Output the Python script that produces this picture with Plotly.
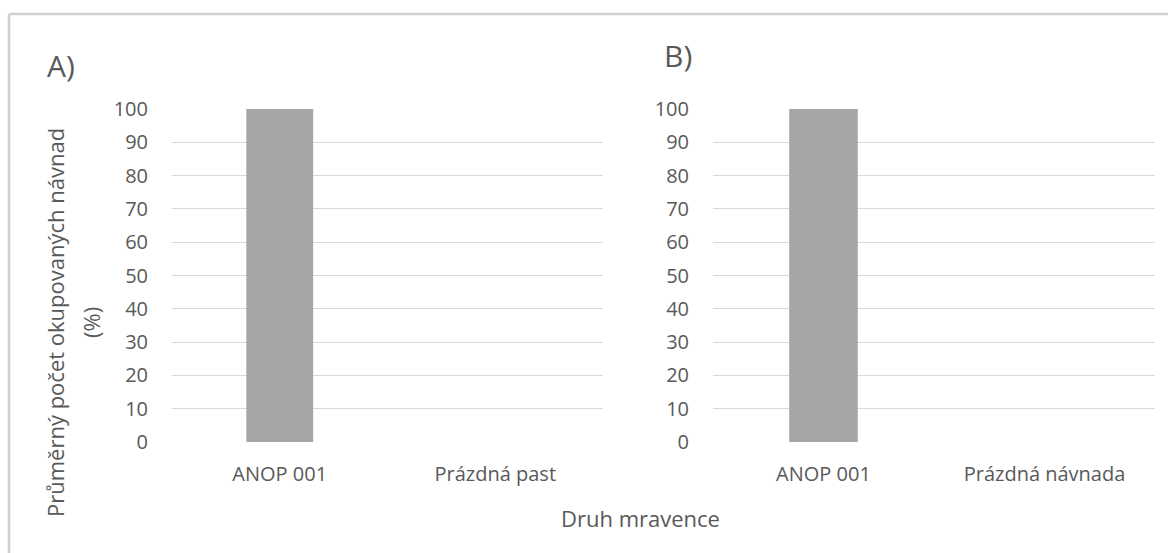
import plotly.graph_objects as go

# Mean share of occupied baits per ant species, two experiments
cats_a = ["ANOP 001", "Prázdná past"]
vals_a = [100, 0]
cats_b = ["ANOP 001", "Prázdná návnada"]
vals_b = [100, 0]
y_ticks = list(range(0, 101, 10))

W, H = 1168, 553
FONT = "Open Sans"
TXT = "#595959"
GRID = "#d9d9d9"
BAR = "#a5a5a5"


def px_x(v):
    return v / W


def px_y(v):
    return 1 - v / H


fig = go.Figure()
fig.add_trace(go.Bar(x=cats_a, y=vals_a, marker=dict(color=BAR, line=dict(width=0)),
                     xaxis="x", yaxis="y", showlegend=False))
fig.add_trace(go.Bar(x=cats_b, y=vals_b, marker=dict(color=BAR, line=dict(width=0)),
                     xaxis="x2", yaxis="y2", showlegend=False))

y_common = dict(range=[0, 100], tickvals=y_ticks, showgrid=True, gridcolor=GRID,
                gridwidth=1.3, zeroline=False, showline=False, ticks="",
                tickfont=dict(family=FONT, size=20, color=TXT),
                ticklabelstandoff=23, fixedrange=True, automargin=False,
                domain=[px_y(442), px_y(109)])
x_common = dict(showgrid=False, zeroline=False, showline=False, ticks="",
                tickfont=dict(family=FONT, size=20, color=TXT),
                ticklabelstandoff=18, fixedrange=True, automargin=False)

fig.update_layout(
    width=W, height=H,
    margin=dict(l=0, r=0, t=0, b=0, autoexpand=False),
    paper_bgcolor="white", plot_bgcolor="white",
    bargap=0.69,
    font=dict(family=FONT, color=TXT),
    xaxis=dict(domain=[px_x(172), px_x(603)], anchor="y", **x_common),
    yaxis=dict(anchor="x", **y_common),
    xaxis2=dict(domain=[px_x(713), px_x(1155)], anchor="y2", **x_common),
    yaxis2=dict(anchor="x2", **y_common),
)

annots = [
    dict(text="A)", x=px_x(61), y=px_y(65), font=dict(size=30, color=TXT, family=FONT)),
    dict(text="B)", x=px_x(678), y=px_y(55), font=dict(size=30, color=TXT, family=FONT)),
    dict(text="Druh mravence", x=px_x(640), y=px_y(518), font=dict(size=22, color=TXT, family=FONT)),
    dict(text="Průměrný počet okupovaných návnad", x=px_x(55), y=px_y(323), textangle=-90,
         font=dict(size=22, color=TXT, family=FONT)),
    dict(text="(%)", x=px_x(91), y=px_y(323), textangle=-90,
         font=dict(size=22, color=TXT, family=FONT)),
]
for a in annots:
    fig.add_annotation(xref="paper", yref="paper", showarrow=False,
                       xanchor="center", yanchor="middle", **a)

# chart frame (top and left edges)
fig.add_shape(type="line", xref="paper", yref="paper", x0=px_x(9), x1=1.0,
              y0=px_y(14), y1=px_y(14), line=dict(color="#d0d0d0", width=2.5))
fig.add_shape(type="line", xref="paper", yref="paper", x0=px_x(9), x1=px_x(9),
              y0=px_y(14), y1=0, line=dict(color="#d0d0d0", width=2.5))

fig.write_html("out.html")
